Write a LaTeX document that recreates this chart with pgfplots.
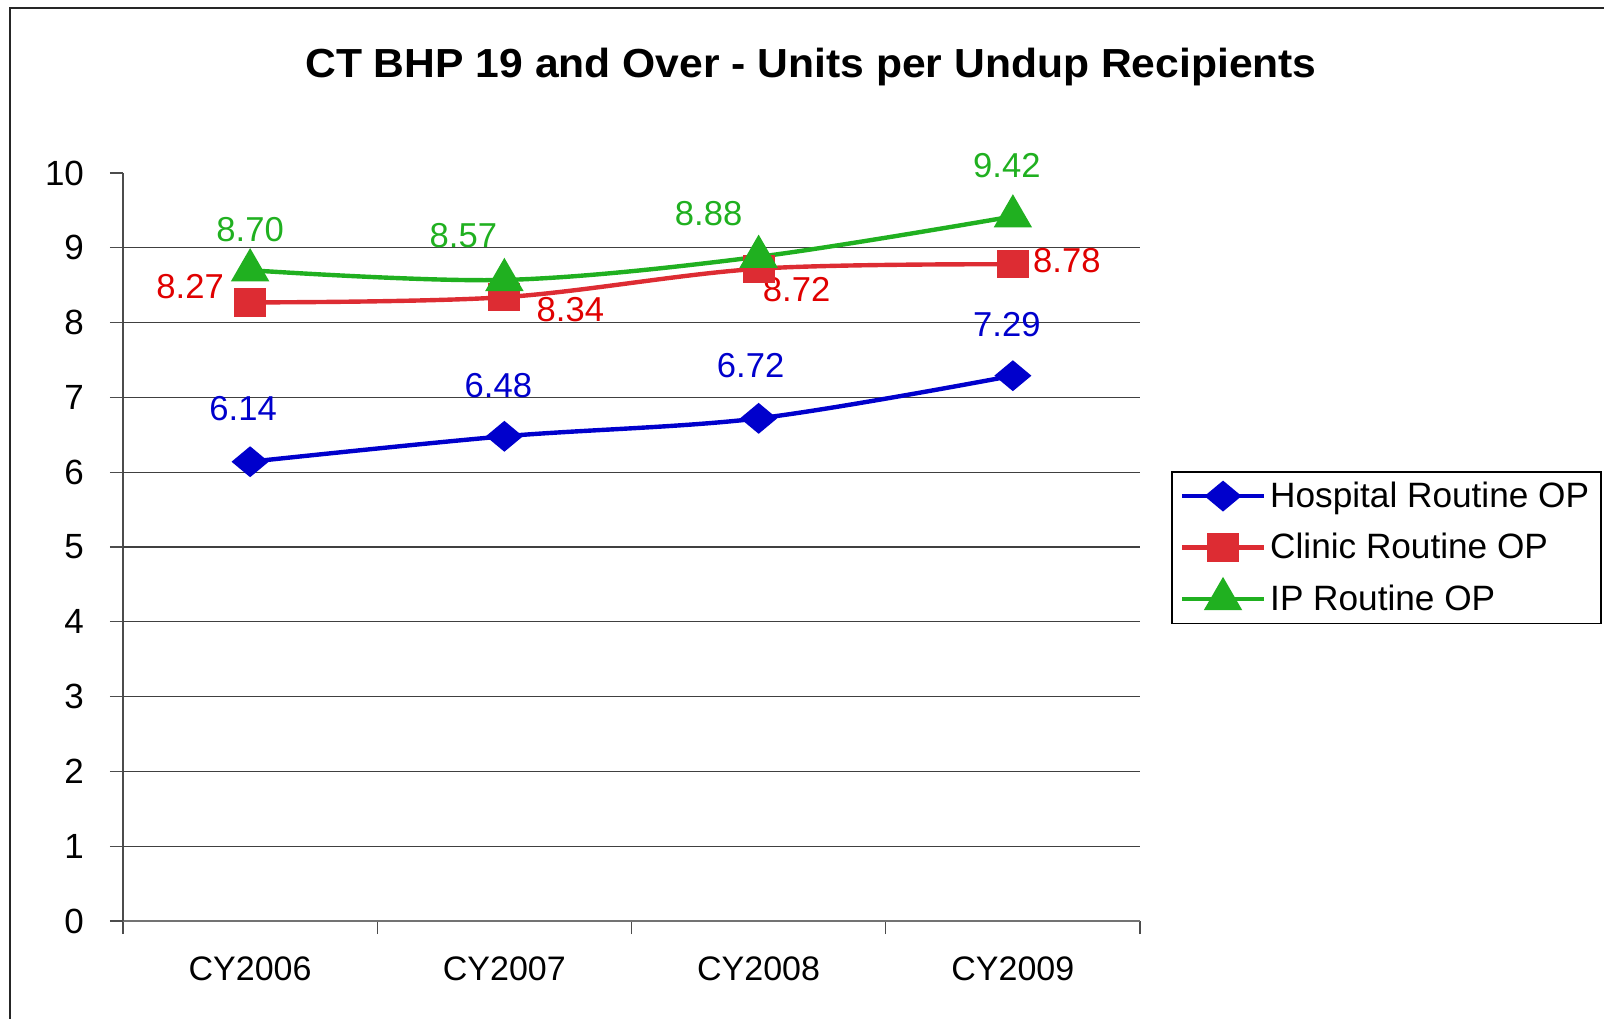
\documentclass[border=0pt]{standalone}
\usepackage{fontspec}
\setmainfont{Liberation Sans}
\usepackage{pgfplots}
\pgfplotsset{compat=1.18}
\definecolor{hblue}{RGB}{0,0,204}
\definecolor{cred}{RGB}{221,44,51}
\definecolor{credtext}{RGB}{224,0,0}
\definecolor{ipgreen}{RGB}{32,176,32}
\begin{document}
\begin{tikzpicture}
\begin{scope}[x=0.5pt,y=-0.5pt,shift={(0pt,509pt)}]
\useasboundingbox (0,0) rectangle (1604,1018);
\draw[line width=1.2pt, black!85] (10,8) rectangle (1700,1100);
\node[font=\bfseries\fontsize{20.3}{24}\selectfont] at (811,67) {\scalebox{1.05}[1]{CT BHP 19 and Over - Units per Undup Recipients}};
\end{scope}
\begin{axis}[
  at={(61.5pt,48.5pt)}, anchor=south west,
  scale only axis, width=508.5pt, height=374pt,
  xmin=0, xmax=4, ymin=0, ymax=10,
  axis x line*=bottom, axis y line*=left,
  x axis line style={black!55, line width=1.2pt},
  y axis line style={black!70, line width=0.6pt},
  xtick={0,1,2,3,4},
  xticklabels={CY2006,CY2007,CY2008,CY2009,},
  x tick label as interval,
  ytick={0,...,10},
  tick align=outside,
  major tick length=6.5pt,
  tick style={black!70, line width=0.6pt},
  extra y ticks={1,...,9},
  extra y tick labels={},
  extra y tick style={grid=major, major tick length=0pt},
  major grid style={black!75, line width=0.6pt},
  /pgf/number format/assume math mode=true,
  yticklabel style={font=\fontsize{17.5}{20}\selectfont, xshift=-9.5pt},
  xticklabel style={font=\fontsize{17}{20}\selectfont, yshift=-8pt},
  clip=false,
  legend cell align=left,
  legend style={at={(1.0305,0.6016)}, anchor=north west, draw=black, line width=0.8pt,
    font=\fontsize{17.6}{20}\selectfont, row sep=7.5pt, inner xsep=4pt, inner ysep=3pt,
    nodes={inner sep=2pt}},
  legend image code/.code={\draw[mark repeat=2,mark phase=2,#1] plot coordinates {(0pt,0pt) (20.5pt,0pt) (41pt,0pt)};},
]
\addplot[hblue, line width=2.2pt, smooth, tension=0.55, mark=diamond*, mark size=6.3pt,
  mark options={xscale=1.6, solid}] coordinates {(0.5,6.14) (1.5,6.48) (2.5,6.72) (3.5,7.29)};
\addlegendentry{Hospital Routine OP}
\addplot[cred, line width=2.2pt, smooth, tension=0.55, mark=square*, mark size=6pt,
  mark options={xscale=1.15}] coordinates {(0.5,8.27) (1.5,8.34) (2.5,8.72) (3.5,8.78)};
\addlegendentry{Clinic Routine OP}
\addplot[ipgreen, line width=2.2pt, smooth, tension=0.55, mark=triangle*, mark size=8.9pt] coordinates {(0.5,8.70) (1.5,8.57) (2.5,8.88) (3.5,9.42)};
\addlegendentry{IP Routine OP}
\begin{scope}[every node/.style={font=\fontsize{17.3}{20}\selectfont, inner sep=0pt}]
\node[ipgreen, xshift=0pt, yshift=20.5pt] at (axis cs:0.5,8.70) {8.70};
\node[ipgreen, xshift=-20.5pt, yshift=22pt] at (axis cs:1.5,8.57) {8.57};
\node[ipgreen, xshift=-25pt, yshift=21.5pt] at (axis cs:2.5,8.88) {8.88};
\node[ipgreen, xshift=-3pt, yshift=25.5pt] at (axis cs:3.5,9.42) {9.42};
\node[credtext, xshift=-30pt, yshift=8pt] at (axis cs:0.5,8.27) {8.27};
\node[credtext, xshift=33pt, yshift=-6pt] at (axis cs:1.5,8.34) {8.34};
\node[credtext, xshift=19pt, yshift=-10.5pt] at (axis cs:2.5,8.72) {8.72};
\node[credtext, xshift=27pt, yshift=2pt] at (axis cs:3.5,8.78) {8.78};
\node[hblue, xshift=-3.5pt, yshift=26.5pt] at (axis cs:0.5,6.14) {6.14};
\node[hblue, xshift=-3pt, yshift=25.5pt] at (axis cs:1.5,6.48) {6.48};
\node[hblue, xshift=-4pt, yshift=26.5pt] at (axis cs:2.5,6.72) {6.72};
\node[hblue, xshift=-3pt, yshift=25.5pt] at (axis cs:3.5,7.29) {7.29};
\end{scope}
\end{axis}
\end{tikzpicture}
\end{document}
